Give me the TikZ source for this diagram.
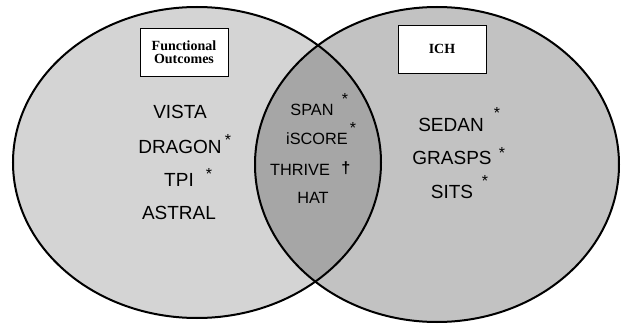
\documentclass[tikz,border=0pt]{standalone}
\usepackage{fontspec}
\setmainfont{Liberation Sans}
\newfontfamily\boxfont{Liberation Serif}
\usetikzlibrary{positioning}
\definecolor{leftgray}{HTML}{D4D4D4}
\definecolor{rightgray}{HTML}{C2C2C2}
\definecolor{lensgray}{HTML}{A6A6A6}
\tikzset{
    set-label/.style={
        draw, fill=white, line width=0.9pt, minimum width=88pt, minimum height=48pt,
        align=center, font=\boxfont\bfseries\fontsize{14}{15}\selectfont
    },
    item/.style={
        inner sep=0pt, font=\fontsize{19}{21}\selectfont
    },
    mid-item/.style={
        inner sep=0pt, font=\fontsize{16.3}{18}\selectfont
    },
    mark-star/.style={
        inner sep=0pt, font=\fontsize{16}{17}\selectfont
    },
}

\begin{document}
\begin{tikzpicture}[x=1pt, y=-1pt]

        \useasboundingbox (0,0) rectangle (625,324);

        % SETS
        \fill[leftgray]  (197,162.5) ellipse [x radius=184, y radius=155.5];
        \fill[rightgray] (437,164.5) ellipse [x radius=182, y radius=157.5];
        \begin{scope}
            \clip (197,162.5) ellipse [x radius=184, y radius=155.5];
            \fill[lensgray] (437,164.5) ellipse [x radius=182, y radius=157.5];
        \end{scope}
        \draw[line width=2pt] (197,162.5) ellipse [x radius=184, y radius=155.5];
        \draw[line width=2pt] (437,164.5) ellipse [x radius=182, y radius=157.5];

        % SET LABELS
        \node[set-label] (FO)  at (184,52.5) {Functional\\[-2pt]Outcomes};
        \node[set-label] (ICH) at (442,49)   {ICH};

        % FUNCTIONAL OUTCOMES ONLY
        \node[item] (VISTA)  at (180,112) {VISTA};
        \node[item] (DRAGON) at (180,147) {DRAGON};
        \node[item] (TPI)    at (179,180) {TPI};
        \node[item] (ASTRAL) at (179,213) {ASTRAL};
        \node[mark-star] (DRAGONS) at (228,140) {*};
        \node[mark-star] (TPIS)    at (209,174) {*};

        % BOTH
        \node[mid-item] (SPAN)   at (312,110) {SPAN};
        \node[mid-item] (ISCORE) at (317,139) {iSCORE};
        \node[mid-item] (THRIVE) at (300,170) {THRIVE};
        \node[mid-item] (HAT)    at (313,198) {HAT};
        \node[mark-star] (SPANS)   at (345,99)  {*};
        \node[mark-star] (ISCORES) at (353,128) {*};
        \node[mid-item, font=\bfseries\fontsize{16.3}{18}\selectfont] (THRIVED) at (346,168) {†};

        % ICH ONLY
        \node[item] (SEDAN)  at (451,125) {SEDAN};
        \node[item] (GRASPS) at (452,158) {GRASPS};
        \node[item] (SITS)   at (452,192) {SITS};
        \node[mark-star] (SEDANS)  at (497,113) {*};
        \node[mark-star] (GRASPSS) at (502,153) {*};
        \node[mark-star] (SITSS)   at (485,181) {*};

    \end{tikzpicture}
\end{document}
